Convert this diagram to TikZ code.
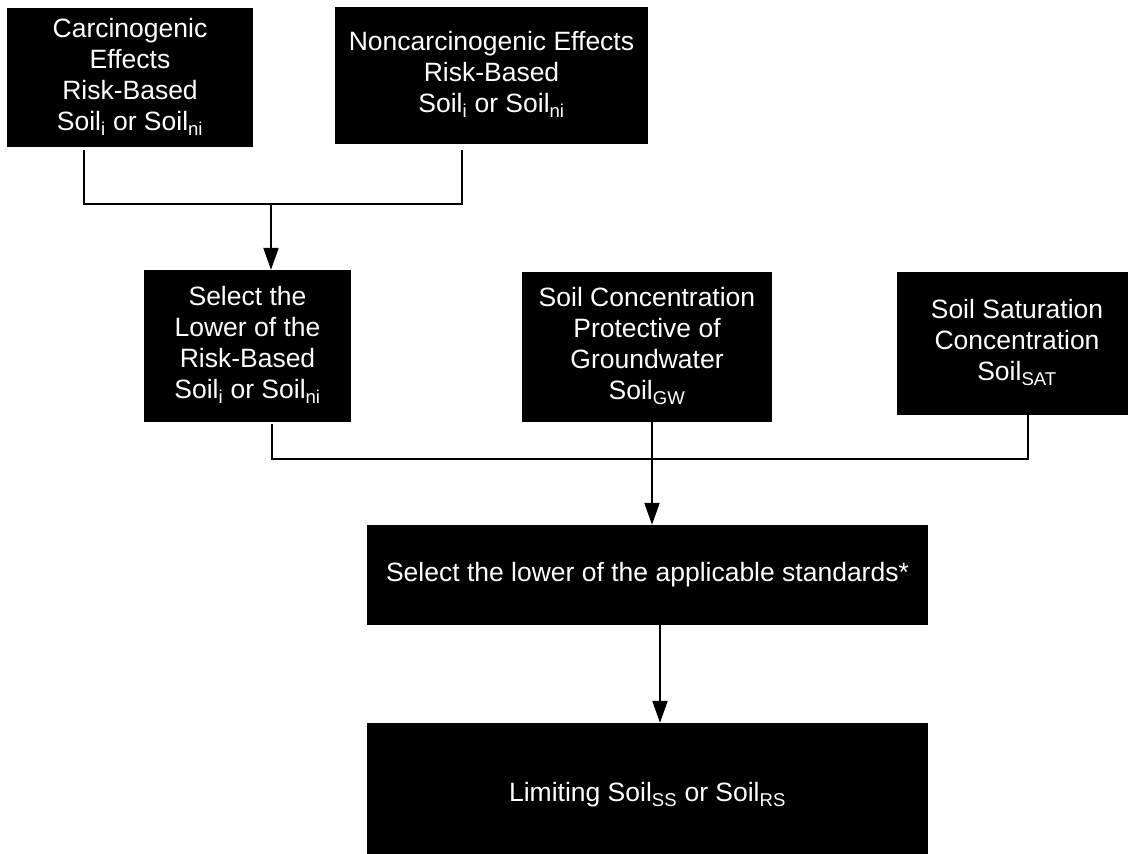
\documentclass[tikz,border=0pt]{standalone}
\usepackage{fontspec}
\setmainfont{Liberation Sans}
\usetikzlibrary{arrows.meta}
\newcommand\boxlines[1]{\begin{tabular}{@{}c@{}}#1\end{tabular}}
\begin{document}
\begin{tikzpicture}[x=1pt,y=-1pt,
  blk/.style={fill=black,draw=none,text=white,inner sep=0pt,align=center,
    font=\fontsize{26.5}{31}\selectfont},
  conn/.style={line width=2.2pt,line join=miter},
  arr/.style={line width=2.2pt,-{Triangle[length=22pt,width=15pt]}}]
\clip (0,0) rectangle (1128,854);
\fill[white] (0,0) rectangle (1128,854);

\node[blk,minimum width=246pt,minimum height=139pt] (b1) at (130,77.5)
  {\boxlines{Carcinogenic\\Effects\\Risk-Based\\Soil\textsubscript{i} or Soil\textsubscript{ni}}};
\node[blk,minimum width=313pt,minimum height=137pt] (b2) at (491.5,75.5)
  {\raisebox{3pt}{\boxlines{Noncarcinogenic Effects\\Risk-Based\\Soil\textsubscript{i} or Soil\textsubscript{ni}}}};
\node[blk,minimum width=207pt,minimum height=152pt] (b3) at (247.5,346)
  {\raisebox{3pt}{\boxlines{Select the\\Lower of the\\Risk-Based\\Soil\textsubscript{i} or Soil\textsubscript{ni}}}};
\node[blk,minimum width=250pt,minimum height=150pt] (b4) at (647,347)
  {\raisebox{9pt}{\boxlines{Soil Concentration\\Protective of\\Groundwater\\Soil\textsubscript{GW}}}};
\node[blk,minimum width=240pt,minimum height=143pt] (b5) at (1017,343.5)
  {\boxlines{Soil Saturation\\Concentration\\Soil\textsubscript{SAT}}};
\node[blk,minimum width=561pt,minimum height=100pt] (b6) at (647.5,575)
  {Select the lower of the applicable standards*};
\node[blk,minimum width=561pt,minimum height=144pt] (b7) at (647.5,795)
  {Limiting Soil\textsubscript{SS} or Soil\textsubscript{RS}};

\coordinate (c1) at (84,204);
\coordinate (c2) at (462,204);
\coordinate (m1) at (271,204);
\coordinate (d1) at (272,459);
\coordinate (d2) at (1028,459);
\coordinate (m2) at (652,459);
\coordinate (m3) at (660,674);

\draw[conn,shorten <=3pt] (b1.south -| c1) -- (c1) -- (c2) -- ([yshift=-6pt]b2.south -| c2);
\draw[arr] (m1) -- (b3.north -| m1);
\draw[conn,shorten <=2pt] (b3.south -| d1) -- (d1) -- (d2) -- (b5.south -| d2);
\draw[arr] (b4.south -| m2) -- (b6.north -| m2);
\draw[arr] (b6.south -| m3) -- (b7.north -| m3);
\end{tikzpicture}
\end{document}
